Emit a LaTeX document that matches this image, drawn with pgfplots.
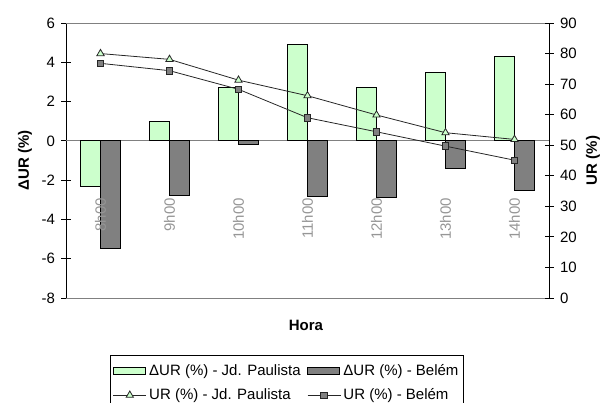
\documentclass[border=0pt]{standalone}
\usepackage{pgfplots}
\pgfplotsset{compat=1.18}
\usepackage{fontspec}
\setmainfont{Liberation Sans}

\definecolor{jdp}{RGB}{204,255,204}
\definecolor{belem}{RGB}{128,128,128}
\definecolor{frame}{RGB}{128,128,128}
\definecolor{catlabel}{RGB}{150,150,150}

\newcommand{\chartfont}{\fontsize{15bp}{18bp}\selectfont}

\pgfplotsset{
  common/.style={
    scale only axis, width=483bp, height=275bp,
    xmin=-0.5, xmax=6.5,
    axis x line=none,
    axis line style={black, line width=0.8bp, -},
    major tick length=9bp, tick align=center,
    tick style={black, line width=0.8bp},
    yticklabel style={font=\chartfont, /pgf/number format/assume math mode=true},
    clip=false,
  },
}

\begin{document}
\begin{tikzpicture}
\path[use as bounding box] (-66bp,-105bp) rectangle (544bp,298bp);

% change in relative humidity (bars, left axis)
\begin{axis}[common,
  ymin=-8, ymax=6, ytick={-8,-6,...,6},
  axis y line*=left,
  yticklabel style={xshift=-3bp},
  ybar=0pt, bar width=20bp,
]
\draw[frame, line width=1bp] (rel axis cs:0,1) -- (rel axis cs:1,1);
\draw[frame, line width=1bp] (rel axis cs:0,0) -- (rel axis cs:1,0);
\draw[frame, line width=1bp] (axis cs:-0.5,0) -- (axis cs:6.5,0);
\addplot[fill=jdp, draw=black, line width=0.8bp] coordinates
  {(0,-2.3) (1,1.0) (2,2.7) (3,4.9) (4,2.7) (5,3.5) (6,4.3)};
\addplot[fill=belem, draw=black, line width=0.8bp] coordinates
  {(0,-5.5) (1,-2.8) (2,-0.2) (3,-2.85) (4,-2.9) (5,-1.4) (6,-2.5)};
\draw[black, line width=0.8bp] (axis cs:0.5,0) ++(0,-5bp) -- ++(0,10bp);
\draw[black, line width=0.8bp] (axis cs:1.5,0) ++(0,-5bp) -- ++(0,10bp);
\draw[black, line width=0.8bp] (axis cs:2.5,0) ++(0,-5bp) -- ++(0,10bp);
\draw[black, line width=0.8bp] (axis cs:3.5,0) ++(0,-5bp) -- ++(0,10bp);
\draw[black, line width=0.8bp] (axis cs:4.5,0) ++(0,-5bp) -- ++(0,10bp);
\draw[black, line width=0.8bp] (axis cs:5.5,0) ++(0,-5bp) -- ++(0,10bp);
\begin{scope}[every node/.style={rotate=90, anchor=east, inner sep=0pt, text=catlabel, font=\chartfont}]
\node at ([yshift=-57bp]axis cs:0,0) {8h00};
\node at ([yshift=-57bp]axis cs:1,0) {9h00};
\node at ([yshift=-57bp]axis cs:2,0) {10h00};
\node at ([yshift=-57bp]axis cs:3,0) {11h00};
\node at ([yshift=-57bp]axis cs:4,0) {12h00};
\node at ([yshift=-57bp]axis cs:5,0) {13h00};
\node at ([yshift=-57bp]axis cs:6,0) {14h00};
\end{scope}
\end{axis}

% relative humidity (lines, right axis)
\begin{axis}[common,
  ymin=0, ymax=90, ytick={0,10,...,90},
  axis y line*=right,
  yticklabel style={xshift=3bp},
  legend columns=2,
  legend cell align=left,
  legend style={at={(axis description cs:0,0)}, anchor=north west,
    xshift=44bp, yshift=-57bp, draw=black, line width=0.8bp,
    font=\chartfont, inner xsep=2.5bp, inner ysep=7bp,
    nodes={inner xsep=2.5bp, inner ysep=2bp},
    /tikz/every even column/.append style={column sep=4bp},
    row sep=8bp},
  legend image code/.code={%
    \draw[#1, mark repeat=2, mark phase=2]
      plot coordinates {(0bp,0bp) (16.5bp,0bp) (33bp,0bp)};},
]
\addlegendimage{legend image code/.code={%
  \draw[fill=jdp, draw=black, line width=0.8bp] (0bp,-3.4bp) rectangle (32bp,3.4bp);}}
\addlegendentry{ΔUR (\%) - Jd. Paulista}
\addlegendimage{legend image code/.code={%
  \draw[fill=belem, draw=black, line width=0.8bp] (0bp,-3.4bp) rectangle (32bp,3.4bp);}}
\addlegendentry{ΔUR (\%) - Belém\hspace{36bp}}
\addplot[black!85, line width=0.8bp, mark=triangle*,
  mark options={fill=jdp, draw=black!85, mark size=4.2bp, solid}] coordinates
  {(0,80) (1,78.1) (2,71.3) (3,66.2) (4,59.9) (5,54.1) (6,51.9)};
\addlegendentry{UR (\%) - Jd. Paulista}
\addplot[black!85, line width=0.8bp, mark=square*,
  mark options={fill=belem, draw=black!85, mark size=3.3bp, solid}] coordinates
  {(0,76.8) (1,74.4) (2,68.3) (3,59.0) (4,54.4) (5,49.7) (6,45.1)};
\addlegendentry{UR (\%) - Belém}
\end{axis}

\node[rotate=90, font=\chartfont\bfseries] at (-41bp,137.5bp) {ΔUR (\%)};
\node[rotate=90, font=\chartfont\bfseries] at (527bp,137.5bp) {UR (\%)};
\node[font=\chartfont\bfseries] at (240bp,-27bp) {Hora};
\end{tikzpicture}
\end{document}
